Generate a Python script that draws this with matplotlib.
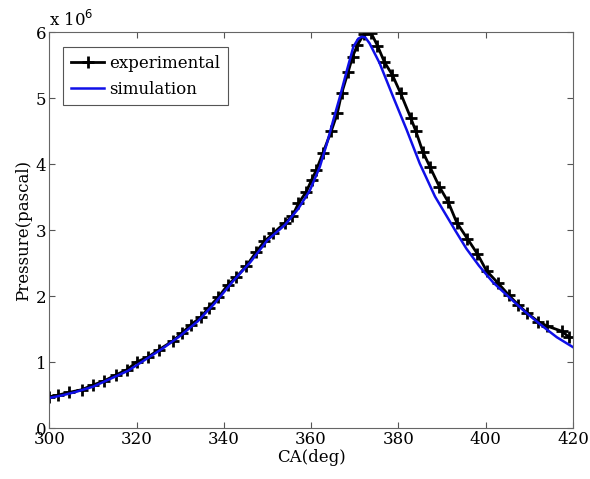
import matplotlib
matplotlib.use('Agg')
import matplotlib.pyplot as plt

# experimental pressure trace (crank angle in deg, pressure in 1e6 Pa)
exp_ca = [300.0, 302.1, 304.6, 307.4, 310.0, 312.5, 315.2, 317.8, 320.0, 322.6,
          325.1, 328.3, 330.5, 332.5, 334.8, 336.5, 338.7, 340.9, 342.9, 345.1,
          347.4, 349.3, 351.3, 354.0, 355.7, 357.1, 358.9, 360.1, 361.2, 362.7,
          364.6, 366.0, 367.0, 368.5, 369.5, 370.6, 372.1, 373.8, 375.2, 376.8,
          378.6, 380.5, 382.8, 384.0, 385.6, 387.2, 389.4, 391.4, 393.4, 395.8,
          398.1, 400.2, 402.9, 405.3, 407.5, 409.5, 412.1, 414.1, 417.5, 419.1]
exp_p = [0.478, 0.504, 0.545, 0.584, 0.656, 0.716, 0.807, 0.887, 1.004, 1.079,
         1.190, 1.322, 1.450, 1.572, 1.685, 1.829, 1.983, 2.170, 2.295, 2.453,
         2.669, 2.831, 2.952, 3.113, 3.214, 3.407, 3.582, 3.759, 3.911, 4.168,
         4.497, 4.769, 5.072, 5.399, 5.626, 5.803, 5.970, 5.980, 5.796, 5.546,
         5.354, 5.076, 4.706, 4.501, 4.188, 3.964, 3.658, 3.431, 3.113, 2.874,
         2.643, 2.386, 2.195, 2.018, 1.867, 1.746, 1.614, 1.549, 1.469, 1.382]

# simulated pressure trace
sim_ca = [300, 303, 306, 310, 314, 318, 322, 326, 330, 334, 338, 342, 346, 350,
          354, 357, 359.7, 362, 363.6, 365.1, 366.6, 368.2, 369.7, 370.8, 371.6,
          372.4, 373.4, 375.7, 378.8, 381.9, 384.9, 388.4, 393.0, 395.6, 398.5,
          401.7, 404.8, 408.6, 412.4, 416.3, 420]
sim_p = [0.46, 0.50, 0.55, 0.63, 0.75, 0.87, 1.04, 1.21, 1.40, 1.62, 1.90, 2.22,
         2.51, 2.85, 3.08, 3.32, 3.60, 3.96, 4.31, 4.67, 5.02, 5.42, 5.78, 5.90,
         5.93, 5.92, 5.83, 5.53, 5.02, 4.52, 4.01, 3.51, 3.00, 2.72, 2.46,
         2.21, 2.02, 1.79, 1.58, 1.38, 1.23]

plt.rcParams['font.family'] = ['DejaVu Serif']
plt.rcParams['font.size'] = 12

fig = plt.figure(figsize=(5.9, 4.79), dpi=100)
ax = fig.add_axes([0.0836, 0.1058, 0.8874, 0.8272])

ax.plot(exp_ca, [p * 1e6 for p in exp_p], color='black', lw=2.0, marker='+',
        ms=8, mew=2.0, label='experimental')
ax.plot(sim_ca, [p * 1e6 for p in sim_p], color='#1010e8', lw=1.8, label='simulation')

ax.set_xlim(300, 420)
ax.set_ylim(0, 6e6)
ax.set_xticks([300, 320, 340, 360, 380, 400, 420])
ax.set_yticks([0, 1e6, 2e6, 3e6, 4e6, 5e6, 6e6])
ax.set_yticklabels(['0', '1', '2', '3', '4', '5', '6'])
ax.tick_params(direction='in', top=True, right=True, length=4, color='#555555', pad=2)
for s in ax.spines.values():
    s.set_color('#666666')

ax.set_xlabel('CA(deg)', labelpad=1)
ax.set_ylabel('Pressure(pascal)', labelpad=3)
ax.text(0.0, 1.005, r'x 10$^{6}$', transform=ax.transAxes, ha='left', va='bottom')

leg = ax.legend(loc='upper left', bbox_to_anchor=(0.027, 0.962), fancybox=False,
                edgecolor='#555555', framealpha=1, borderpad=0.45, handlelength=2.0,
                handletextpad=0.3, labelspacing=0.55, borderaxespad=0)
leg.get_frame().set_linewidth(0.8)

fig.savefig('out.png', dpi=100)
